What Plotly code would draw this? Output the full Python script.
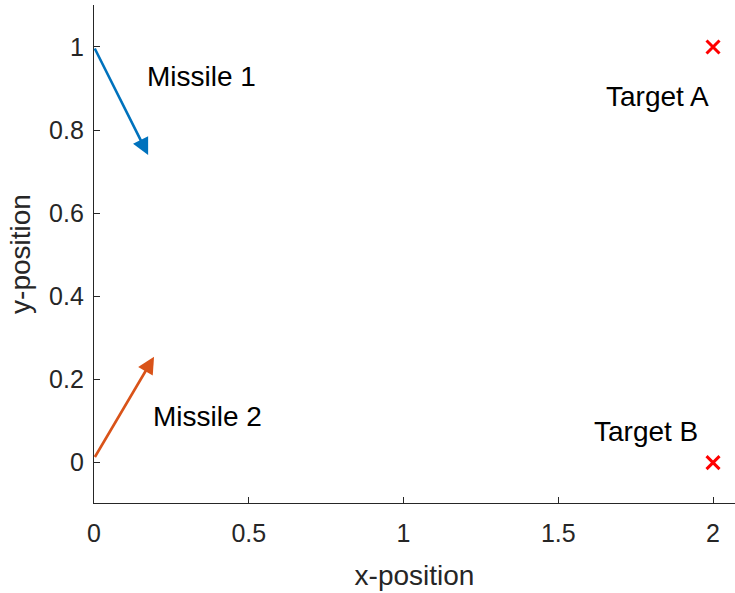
import plotly.graph_objects as go

# Missile arrows: start and end points
missile_names = ["Missile 1", "Missile 2"]
missile_x0 = [0.0, 0.0]
missile_y0 = [1.0, 0.01]
missile_x1 = [0.175, 0.194]
missile_y1 = [0.74, 0.255]
missile_colors = ["#0072BD", "#D95319"]
missile_label_x = [0.164, 0.184]
missile_label_y = [0.928, 0.11]

# Targets
target_names = ["Target A", "Target B"]
target_x = [2.0, 2.0]
target_y = [1.0, 0.0]
target_label_x = [1.647, 1.609]
target_label_y = [0.88, 0.075]

xticks = [0, 0.5, 1, 1.5, 2]
xticklabels = ["0", "0.5", "1", "1.5", "2"]
yticks = [0, 0.2, 0.4, 0.6, 0.8, 1]
yticklabels = ["0", "0.2", "0.4", "0.6", "0.8", "1"]

FONT = "Liberation Sans, Arial, sans-serif"
AXC = "#262626"

fig = go.Figure()

fig.add_trace(go.Scatter(
    x=target_x, y=target_y, mode="markers",
    marker=dict(symbol="x-thin", size=13, line=dict(color="#FF0000", width=3)),
    showlegend=False, hoverinfo="skip"))

annotations = []
for i in range(len(missile_names)):
    annotations.append(dict(
        x=missile_x1[i], y=missile_y1[i], ax=missile_x0[i], ay=missile_y0[i],
        xref="x", yref="y", axref="x", ayref="y",
        showarrow=True, arrowhead=2, arrowsize=1.3, arrowwidth=2.6,
        arrowcolor=missile_colors[i], text="", standoff=0, startstandoff=0))
    annotations.append(dict(
        x=missile_label_x[i], y=missile_label_y[i], xref="x", yref="y",
        text=missile_names[i], showarrow=False, xanchor="left", yanchor="middle",
        font=dict(family=FONT, size=28, color="#000000")))
for i in range(len(target_names)):
    annotations.append(dict(
        x=target_label_x[i], y=target_label_y[i], xref="x", yref="y",
        text=target_names[i], showarrow=False, xanchor="left", yanchor="middle",
        font=dict(family=FONT, size=28, color="#000000")))

fig.update_layout(
    width=735, height=593,
    margin=dict(l=94, r=0, t=5, b=90),
    plot_bgcolor="white", paper_bgcolor="white",
    annotations=annotations,
    font=dict(family=FONT, color=AXC),
    xaxis=dict(range=[0, 2.071], tickvals=xticks, ticktext=xticklabels,
               showgrid=False, zeroline=False, showline=True, linecolor=AXC, linewidth=1.3,
               ticks="inside", ticklen=6, tickcolor=AXC, mirror=False,
               ticklabelstandoff=8,
               tickfont=dict(family=FONT, size=25, color=AXC),
               title=dict(text="x-position", font=dict(family=FONT, size=28, color=AXC), standoff=19)),
    yaxis=dict(range=[-0.097, 1.101], tickvals=yticks, ticktext=yticklabels,
               showgrid=False, zeroline=False, showline=True, linecolor=AXC, linewidth=1.3,
               ticks="inside", ticklen=6, tickcolor=AXC, mirror=False,
               ticklabelstandoff=4,
               tickfont=dict(family=FONT, size=25, color=AXC),
               title=dict(text="y-position", font=dict(family=FONT, size=28, color=AXC), standoff=10)),
)

fig.write_html("out.html")
